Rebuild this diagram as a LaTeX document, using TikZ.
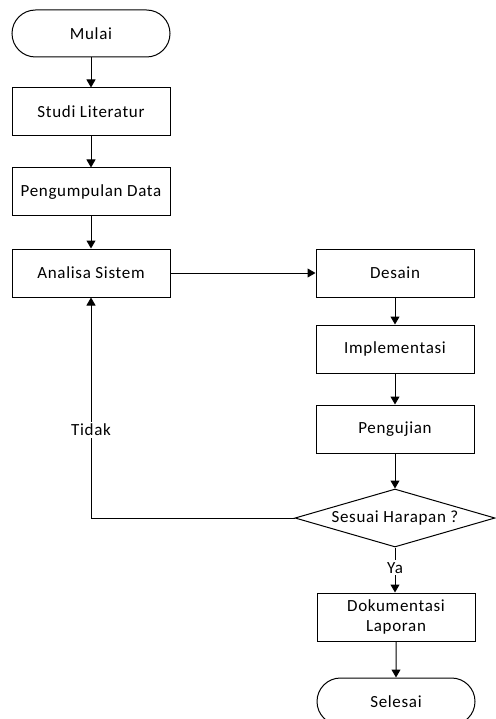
\documentclass[tikz,border=0pt]{standalone}
\usepackage{fontspec}
\setmainfont{Carlito}[LetterSpace=4]
\usetikzlibrary{shapes.geometric,shapes.misc,arrows.meta}

\tikzset{
  base/.style={draw=black, line width=1pt, font=\fontsize{17}{20}\selectfont, align=center, inner sep=0pt},
  procbox/.style={base, rectangle, minimum width=158pt, minimum height=48pt},
  termbox/.style={base, rounded rectangle, minimum width=158pt, minimum height=47pt},
  decbox/.style={base, diamond, aspect=3.45, minimum width=200pt, minimum height=58pt},
  flow/.style={line width=1pt, -{Triangle[length=8pt,width=9pt]}},
  edgelabel/.style={fill=white, font=\fontsize{17}{20}\selectfont, inner sep=2pt}
}

\begin{document}
\begin{tikzpicture}[x=1pt, y=-1pt]
  \useasboundingbox (0,0) rectangle (495,719);

  % left column
  \node[termbox] (mulai)   at (91,33.5) {Mulai};
  \node[procbox] (studi)   at (91,112)  {Studi Literatur};
  \node[procbox] (kumpul)  at (91,192)  {Pengumpulan Data};
  \node[procbox] (analisa) at (91,273)  {Analisa Sistem};

  % right column
  \node[procbox] (desain)  at (395,273) {Desain};
  \node[procbox] (impl)    at (395,349) {Implementasi};
  \node[procbox] (uji)     at (395,429) {Pengujian};
  \node[decbox]  (cek)     at (395,518) {Sesuai Harapan ?};
  \node[procbox] (dok)     at (396,617) {Dokumentasi\\Laporan};
  \node[termbox] (selesai) at (396,701.5) {Selesai};

  % main flow
  \draw[flow] (mulai) -- (studi);
  \draw[flow] (studi) -- (kumpul);
  \draw[flow] (kumpul) -- (analisa);
  \draw[flow] (analisa) -- (desain);
  \draw[flow] (desain) -- (impl);
  \draw[flow] (impl) -- (uji);
  \draw[flow] (uji) -- (cek);
  \draw[flow] (cek.south) -- (cek.south |- dok.north)
    node[edgelabel, pos=0.45] {Ya};
  \draw[flow] (dok) -- (selesai);

  % loop back when the result is not as expected
  \coordinate (belok) at (analisa.south |- cek.west);
  \draw[flow] (cek.west) -- (belok) -- (analisa.south)
    node[edgelabel, pos=0.4] {Tidak};
\end{tikzpicture}
\end{document}
